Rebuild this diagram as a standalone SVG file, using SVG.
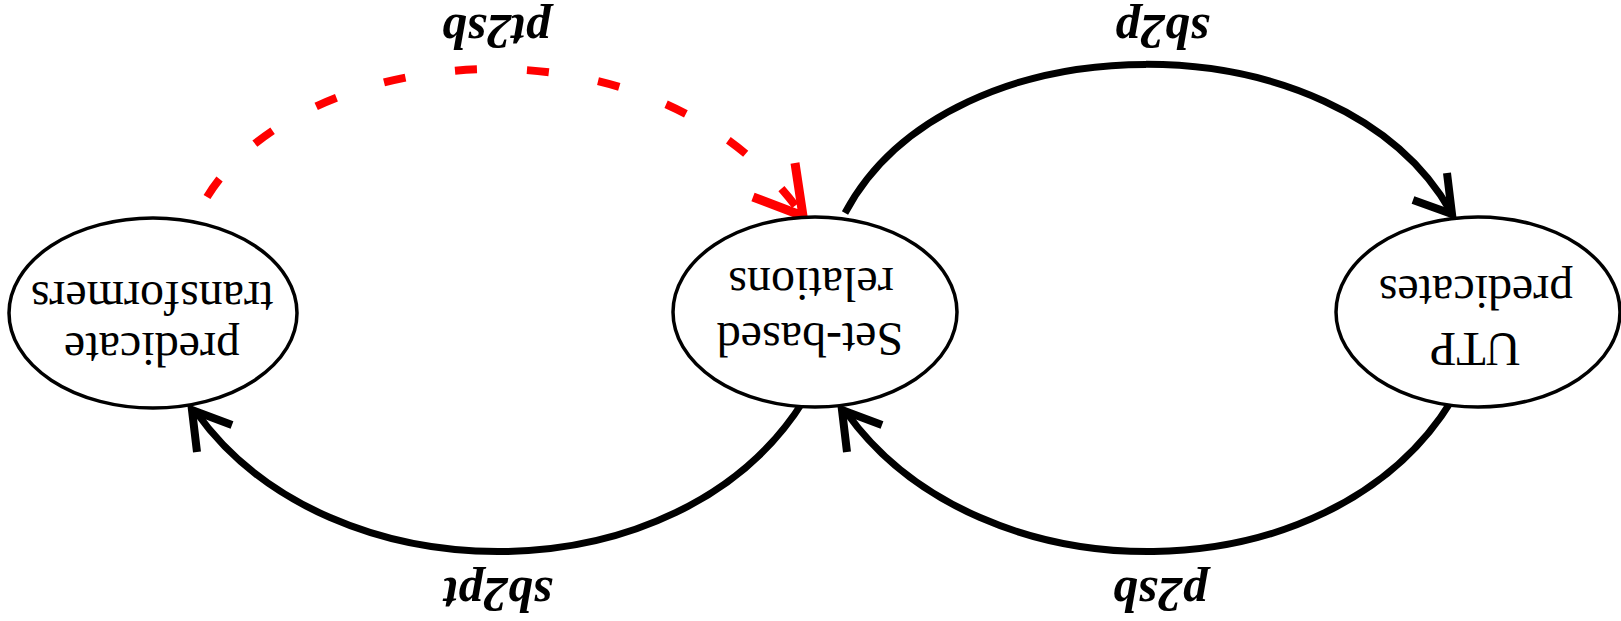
<svg xmlns="http://www.w3.org/2000/svg" width="1621" height="621" viewBox="0 0 1621 621">
<style>
.node{fill:#fff;stroke:#000;stroke-width:3.5}
.nt{font-family:"Liberation Serif",serif;font-size:48px;text-anchor:middle;fill:#000}
.lb{font-family:"Liberation Serif",serif;font-size:50px;font-weight:bold;font-style:italic;text-anchor:middle;fill:#000}
.edge{fill:none;stroke:#000;stroke-width:7}
.head{fill:none;stroke:#000;stroke-width:8;stroke-linejoin:miter}
.red{fill:none;stroke:#f00;stroke-width:8;stroke-dasharray:22 50}
.redhead{fill:none;stroke:#f00;stroke-width:9}
</style>
<rect width="1621" height="621" fill="#fff"/>
<g id="connectors">
<path class="red" d="M 207 197 C 300 44, 650 4, 800 212"/>
<polyline class="redhead" points="753,197 803,216 795,163"/>
<path class="edge" d="M 845 213 C 950 15, 1340 15, 1451 212"/>
<polyline class="head" points="1413,200 1452,214 1447,173"/>
<path class="edge" d="M 1452 400 C 1330 600, 980 600, 846 412"/>
<polyline class="head" points="847,452 842,410 882,425"/>
<path class="edge" d="M 804 400 C 680 600, 330 600, 196 412"/>
<polyline class="head" points="197,452 192,410 232,425"/>
</g>
<g id="node-pt">
<ellipse class="node" cx="153" cy="313" rx="144" ry="95"/>
<text class="nt" transform="translate(152 333) rotate(180)">predicate</text>
<text class="nt" transform="translate(152 282) rotate(180)">transformers</text>
</g>
<g id="node-sb">
<ellipse class="node" cx="815" cy="312" rx="142" ry="95"/>
<text class="nt" transform="translate(810 323) rotate(180)">Set-based</text>
<text class="nt" transform="translate(811 268) rotate(180)">relations</text>
</g>
<g id="node-utp">
<ellipse class="node" cx="1478" cy="312" rx="142" ry="95"/>
<text class="nt" transform="translate(1475 333) rotate(180)">UTP</text>
<text class="nt" transform="translate(1476 276) rotate(180)">predicates</text>
</g>
<g id="labels">
<text class="lb" transform="translate(496 15) rotate(180)">pt2sb</text>
<text class="lb" transform="translate(1162 15) rotate(180)">sb2p</text>
<text class="lb" transform="translate(498 578) rotate(180)">sb2pt</text>
<text class="lb" transform="translate(1160 578) rotate(180)">p2sb</text>
</g>
</svg>
